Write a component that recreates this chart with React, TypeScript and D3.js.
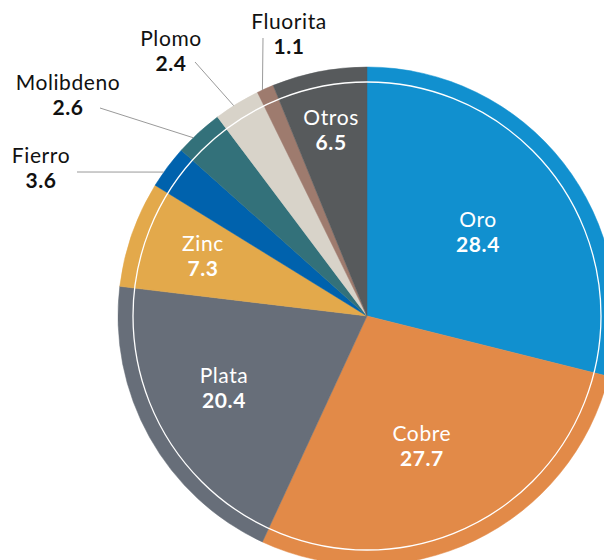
import React from "react";
import * as d3 from "d3";

const categories = ["Oro", "Cobre", "Plata", "Zinc", "Fierro", "Molibdeno", "Plomo", "Fluorita", "Otros"];
// slice shares as drawn in the picture
const values = [28.9, 28.0, 20.0, 6.9, 2.8, 3.15, 3.0, 1.1, 6.15];
// printed labels
const valueLabels = ["28.4", "27.7", "20.4", "7.3", "3.6", "2.6", "2.4", "1.1", "6.5"];
const colors = ["#1190CF", "#E28A48", "#676E79", "#E3A94B", "#0062AD", "#33717A", "#D8D3C9", "#9E7B6E", "#575A5C"];

const W = 604;
const H = 560;
const CX = 367;
const CY = 316;
const R = 249;
const RING = 234;
const FONT = "Lato, 'Noto Sans', sans-serif";
const FS = 21;

// inside label layout: radius and angle offset (deg)
const insideLayout: Record<string, { r: number; da: number }> = {
  Oro: { r: 138, da: 1.5 },
  Cobre: { r: 143, da: 3 },
  Plata: { r: 161, da: 1.8 },
  Zinc: { r: 174, da: 0.2 },
  Otros: { r: 187, da: 0 },
};
// outside label layout: text anchor + leader start + fraction inside slice for leader end
const outsideLayout: Record<string, { x: number; y: number; lx: number; ly: number; t: number }> = {
  Fierro: { x: 41, y: 163, lx: 77, ly: 172, t: 0.36 },
  Molibdeno: { x: 68, y: 90, lx: 100, ly: 108, t: 0.35 },
  Plomo: { x: 171, y: 46, lx: 195, ly: 62, t: 0.42 },
  Fluorita: { x: 289, y: 29, lx: 263, ly: 38, t: 0.32 },
};

function Label({ x, y, name, value, fill }: { x: number; y: number; name: string; value: string; fill: string }) {
  return (
    <g textAnchor="middle" fontSize={FS} fill={fill} letterSpacing={0.6}>
      <text x={x} y={y}>{name}</text>
      <text x={x} y={y + 25} fontWeight={700}>{value}</text>
    </g>
  );
}

export default function App() {
  const data = categories.map((c, i) => ({ name: c, value: values[i], label: valueLabels[i], color: colors[i] }));
  const pie = d3.pie<any>().value((d) => d.value).sort(null);
  const arcs = pie(data);
  const arc = d3.arc<any>().innerRadius(0).outerRadius(R);
  const polar = (a: number, r: number) => [Math.sin(a) * r, -Math.cos(a) * r];

  return (
    <svg width={W} height={H} style={{ position: "absolute", left: 0, top: 0, display: "block" }} fontFamily={FONT}>
      <g transform={`translate(${CX},${CY})`}>
        {arcs.map((a, i) => (
          <path key={i} d={arc(a) as string} fill={a.data.color} stroke={a.data.color} strokeWidth={0.5} />
        ))}
        <circle r={RING} fill="none" stroke="#fff" strokeWidth={1.3} />
        {arcs.map((a, i) => {
          const lay = insideLayout[a.data.name];
          if (!lay) return null;
          const ang = (a.startAngle + a.endAngle) / 2 + (lay.da * Math.PI) / 180;
          const [x, y] = polar(ang, lay.r);
          return <Label key={"in" + i} x={x} y={y - 7} name={a.data.name} value={a.data.label} fill="#fff" />;
        })}
      </g>
      {arcs.map((a, i) => {
        const lay = outsideLayout[a.data.name];
        if (!lay) return null;
        const ang = a.startAngle + (a.endAngle - a.startAngle) * lay.t;
        const [ex, ey] = polar(ang, R);
        return (
          <g key={"out" + i}>
            <line x1={lay.lx} y1={lay.ly} x2={CX + ex} y2={CY + ey} stroke="#9a9a9a" strokeWidth={1} />
            <Label x={lay.x} y={lay.y} name={a.data.name} value={a.data.label} fill="#111" />
          </g>
        );
      })}
    </svg>
  );
}
